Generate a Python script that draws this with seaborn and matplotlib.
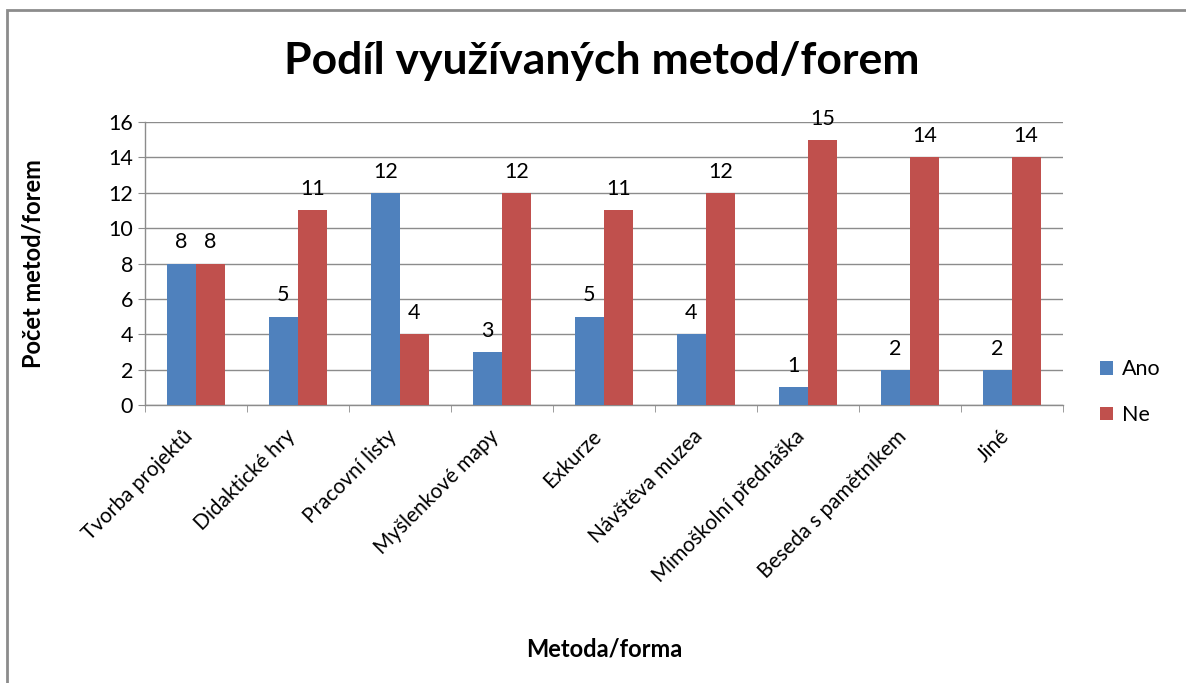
import pandas as pd
import matplotlib.pyplot as plt
import matplotlib.transforms as mtransforms
import seaborn as sns
from matplotlib.patches import Rectangle

metody = ['Tvorba projektů', 'Didaktické hry', 'Pracovní listy', 'Myšlenkové mapy',
          'Exkurze', 'Návštěva muzea', 'Mimoškolní přednáška', 'Beseda s pamětníkem', 'Jiné']
ano = [8, 5, 12, 3, 5, 4, 1, 2, 2]
ne = [8, 11, 4, 12, 11, 12, 15, 14, 14]

data = pd.DataFrame({
    'Metoda': metody * 2,
    'Pocet': ano + ne,
    'Odpoved': ['Ano'] * len(metody) + ['Ne'] * len(metody),
})

sns.set_style('white')
plt.rcParams['font.family'] = ['Lato', 'DejaVu Sans']
plt.rcParams['text.color'] = 'black'
plt.rcParams['axes.labelcolor'] = 'black'
plt.rcParams['xtick.color'] = 'black'
plt.rcParams['ytick.color'] = 'black'

fig = plt.figure(figsize=(11.86, 6.83), dpi=100)
ax = fig.add_axes([0.1223, 0.407, 0.7737, 0.4144])

# rámeček grafu
fig.patches.append(Rectangle((7 / 1186, -0.05), 1.1, 1 - 10 / 683 + 0.05, transform=fig.transFigure,
                             fill=False, edgecolor='#8c8c8c', linewidth=2, zorder=0))

sns.barplot(x='Metoda', y='Pocet', hue='Odpoved', data=data, order=metody,
            palette={'Ano': '#4F81BD', 'Ne': '#C0504D'}, width=0.57, saturation=1,
            edgecolor='none', ax=ax, zorder=3)

for c in ax.containers:
    ax.bar_label(c, padding=8, fontsize=15.5)

ax.set_ylim(0, 16)
ax.set_yticks(range(0, 17, 2))
ax.set_xlim(-0.5, len(metody) - 0.5)
ax.yaxis.grid(True, color='#8c8c8c', linewidth=1, zorder=0)
ax.set_axisbelow(True)

ax.set_xticks(range(len(metody)))
ax.set_xticklabels(metody, rotation=45, ha='right', rotation_mode='anchor', fontsize=15)
ax.set_xticks([i - 0.5 for i in range(len(metody) + 1)], minor=True)
ax.tick_params(axis='x', which='major', length=0, pad=8)
ax.tick_params(axis='x', which='minor', length=5, color='#8c8c8c', direction='out', bottom=True)
ax.tick_params(axis='y', length=5, color='#8c8c8c', direction='out', left=True,
               labelsize=15.5, labelcolor='black')

# posun popisků osy x
posun = mtransforms.ScaledTranslation(-0.13, -0.1, fig.dpi_scale_trans)
for lab in ax.get_xticklabels():
    lab.set_transform(lab.get_transform() + posun)

for s in ['top', 'right']:
    ax.spines[s].set_visible(False)
for s in ['left', 'bottom']:
    ax.spines[s].set_color('#8c8c8c')
    ax.spines[s].set_linewidth(1)

ax.set_xlabel('Metoda/forma', fontsize=17, fontweight='bold', labelpad=0)
ax.xaxis.set_label_coords(0.5, -0.82)
ax.set_ylabel('Počet metod/forem', fontsize=17, fontweight='bold')
ax.yaxis.set_label_coords(-0.11, 0.5)

fig.text(0.507, 0.91, 'Podíl využívaných metod/forem', ha='center', va='center',
         fontsize=32, fontweight='bold')

leg = ax.legend(loc='center left', bbox_to_anchor=(1.02, 0.045), frameon=False,
                fontsize=15.5, handlelength=0.6, handleheight=0.6, labelspacing=1.2,
                handletextpad=0.4)

fig.savefig('out.png', dpi=100)
